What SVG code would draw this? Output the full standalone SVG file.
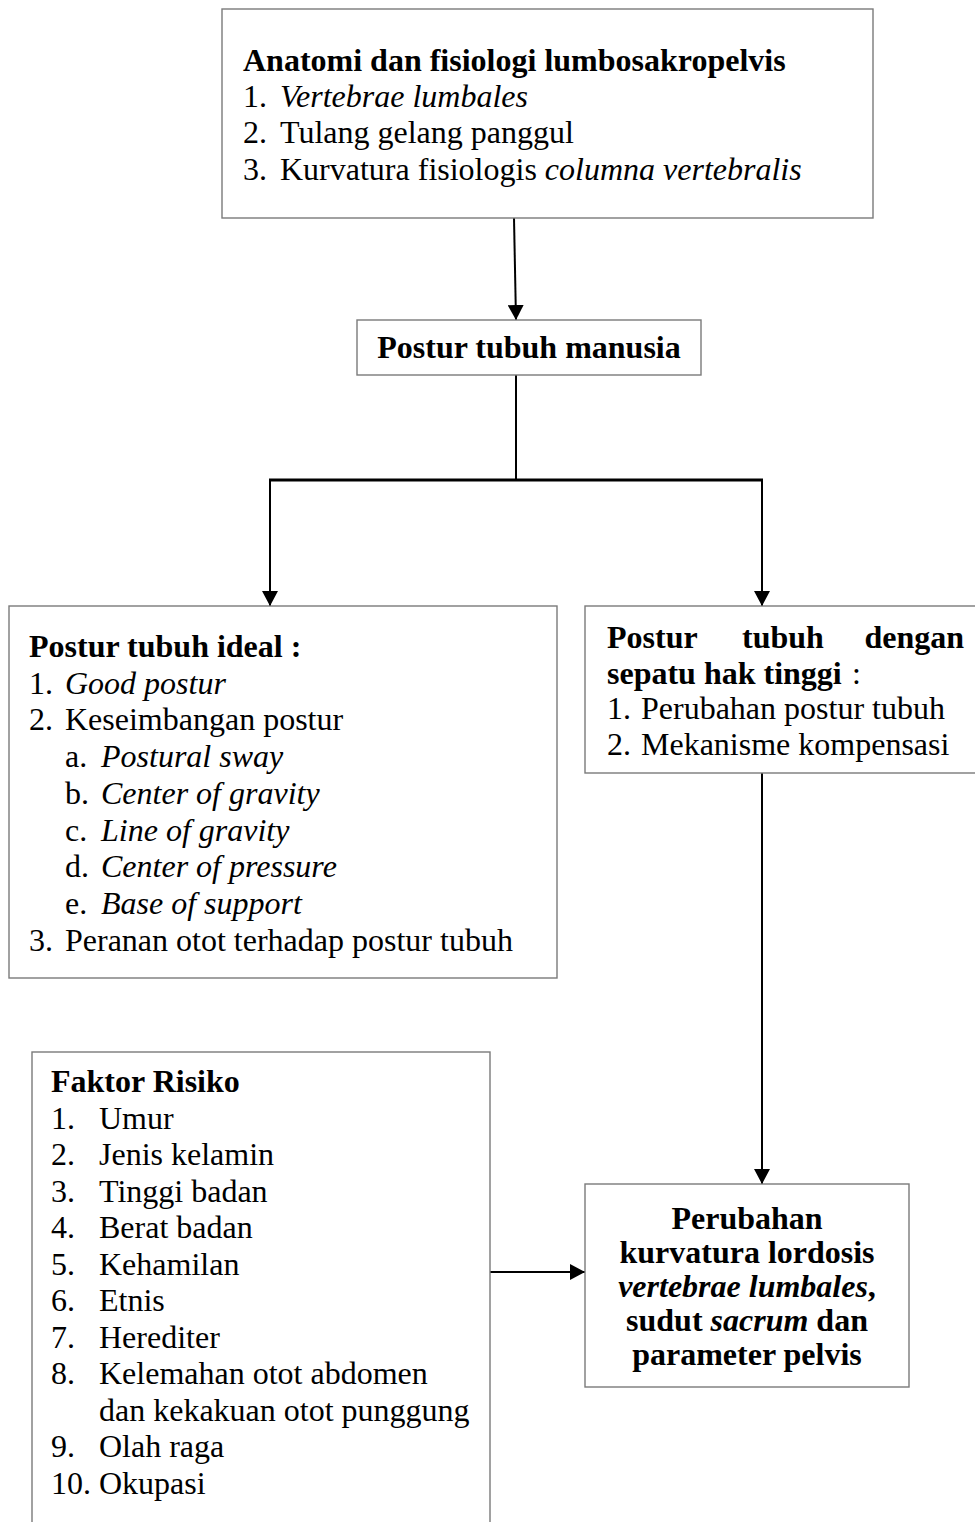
<svg xmlns="http://www.w3.org/2000/svg" width="975" height="1522" viewBox="0 0 975 1522">
<style>
.box{fill:#fff;stroke:#7a7a7a;stroke-width:1.4}
text{font-family:"Liberation Serif","Times New Roman",serif;font-size:32px;fill:#000}
.b{font-weight:bold}
.i{font-style:italic}
.c{text-anchor:middle}
.ln{stroke:#000;stroke-width:2;fill:none}
</style>
<defs>
<marker id="ah" markerWidth="16" markerHeight="16" refX="15" refY="8" orient="auto" markerUnits="userSpaceOnUse">
<path d="M0,0 L15,8 L0,16 z" fill="#000"/>
</marker>
</defs>
<rect width="975" height="1522" fill="#fff"/>
<g id="connectors">
<line class="ln" x1="514" y1="218" x2="516" y2="320" marker-end="url(#ah)"/>
<line class="ln" x1="516" y1="375" x2="516" y2="480"/>
<line x1="269" y1="480" x2="763" y2="480" stroke="#000" stroke-width="3"/>
<line class="ln" x1="270" y1="480" x2="270" y2="606" marker-end="url(#ah)"/>
<line class="ln" x1="762" y1="480" x2="762" y2="606" marker-end="url(#ah)"/>
<line class="ln" x1="762" y1="773" x2="762" y2="1184" marker-end="url(#ah)"/>
<line class="ln" x1="490" y1="1272" x2="585" y2="1272" marker-end="url(#ah)"/>
</g>
<g id="node-anatomi">
<rect class="box" x="222" y="9" width="651" height="209"/>
<text x="243" y="71" class="b">Anatomi dan fisiologi lumbosakropelvis</text>
<text x="243" y="107">1. <tspan x="280" class="i">Vertebrae lumbales</tspan></text>
<text x="243" y="143">2. <tspan x="280">Tulang gelang panggul</tspan></text>
<text x="243" y="180">3. <tspan x="280">Kurvatura fisiologis </tspan><tspan class="i">columna vertebralis</tspan></text>
</g>
<g id="node-postur">
<rect class="box" x="357" y="320" width="344" height="55"/>
<text x="529" y="358" class="b c">Postur tubuh manusia</text>
</g>
<g id="node-ideal">
<rect class="box" x="9" y="606" width="548" height="372"/>
<text x="29" y="657" class="b">Postur tubuh ideal :</text>
<text x="29" y="694">1. <tspan x="65" class="i">Good postur</tspan></text>
<text x="29" y="730">2. <tspan x="65">Keseimbangan postur</tspan></text>
<text x="65" y="767">a. <tspan x="101" class="i">Postural sway</tspan></text>
<text x="65" y="804">b. <tspan x="101" class="i">Center of gravity</tspan></text>
<text x="65" y="841">c. <tspan x="101" class="i">Line of gravity</tspan></text>
<text x="65" y="877">d. <tspan x="101" class="i">Center of pressure</tspan></text>
<text x="65" y="914">e. <tspan x="101" class="i">Base of support</tspan></text>
<text x="29" y="951">3. <tspan x="65">Peranan otot terhadap postur tubuh</tspan></text>
</g>
<g id="node-hak">
<rect class="box" x="585" y="606" width="400" height="167"/>
<text x="607" y="648" class="b">Postur</text>
<text x="742" y="648" class="b">tubuh</text>
<text x="964" y="648" class="b" text-anchor="end">dengan</text>
<text x="607" y="684" class="b">sepatu hak tinggi</text>
<text x="852" y="684">:</text>
<text x="607" y="719">1. <tspan x="641">Perubahan postur tubuh</tspan></text>
<text x="607" y="755">2. <tspan x="641">Mekanisme kompensasi</tspan></text>
</g>
<g id="node-faktor">
<rect class="box" x="32" y="1052" width="458" height="480"/>
<text x="51" y="1092" class="b">Faktor Risiko</text>
<text x="51" y="1129">1. <tspan x="99">Umur</tspan></text>
<text x="51" y="1165">2. <tspan x="99">Jenis kelamin</tspan></text>
<text x="51" y="1202">3. <tspan x="99">Tinggi badan</tspan></text>
<text x="51" y="1238">4. <tspan x="99">Berat badan</tspan></text>
<text x="51" y="1275">5. <tspan x="99">Kehamilan</tspan></text>
<text x="51" y="1311">6. <tspan x="99">Etnis</tspan></text>
<text x="51" y="1348">7. <tspan x="99">Herediter</tspan></text>
<text x="51" y="1384">8. <tspan x="99">Kelemahan otot abdomen</tspan></text>
<text x="99" y="1421">dan kekakuan otot punggung</text>
<text x="51" y="1457">9. <tspan x="99">Olah raga</tspan></text>
<text x="51" y="1494">10. <tspan x="99">Okupasi</tspan></text>
</g>
<g id="node-perubahan">
<rect class="box" x="585" y="1184" width="324" height="203"/>
<text x="747" y="1229" class="b c">Perubahan</text>
<text x="747" y="1263" class="b c">kurvatura lordosis</text>
<text x="747" y="1297" class="b c"><tspan class="i">vertebrae lumbales</tspan>,</text>
<text x="747" y="1331" class="b c">sudut <tspan class="i">sacrum</tspan> dan</text>
<text x="747" y="1365" class="b c">parameter pelvis</text>
</g>
</svg>
